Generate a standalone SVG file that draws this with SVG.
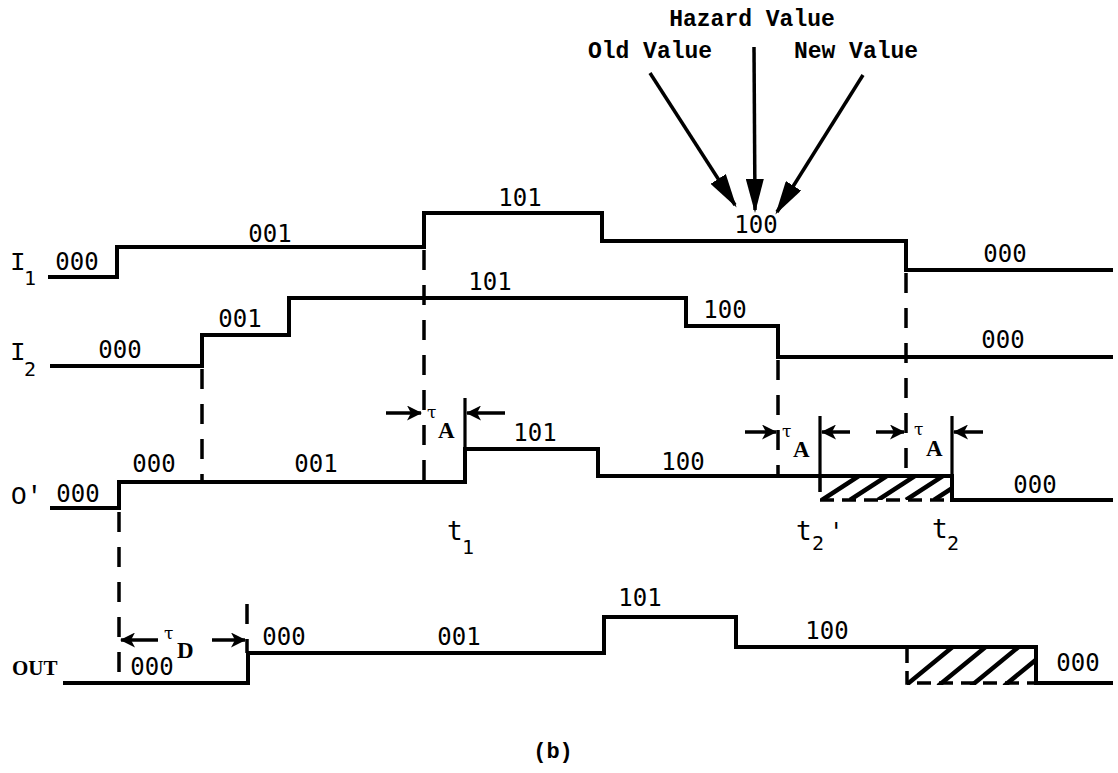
<svg xmlns="http://www.w3.org/2000/svg" width="1118" height="773" viewBox="0 0 1118 773">
<style>
.w{fill:none;stroke:#000;stroke-width:4;stroke-linejoin:miter}
.d{fill:none;stroke:#000;stroke-width:3.5;stroke-dasharray:20 15}
.t{fill:none;stroke:#000;stroke-width:3.2}
.h{fill:none;stroke:#000;stroke-width:4.5}
.lab{font-family:"DejaVu Sans Mono","Liberation Mono",monospace;font-size:24px;fill:#000}
.ttl{font-family:"Liberation Mono","Courier New",monospace;font-size:23px;font-weight:bold;fill:#000}
.sg{font-family:"Liberation Mono","Courier New",monospace;font-size:26px;fill:#000}
.sub{font-family:"DejaVu Sans Mono","Liberation Mono",monospace;font-size:20px;fill:#000}
.tau{font-family:"DejaVu Serif","Liberation Serif",serif;font-size:17px;fill:#000}
.A{font-family:"Liberation Serif","Times New Roman",serif;font-size:23px;font-weight:bold;fill:#000}
.arr{fill:none;stroke:#000;stroke-width:3.5}
</style>
<defs>
<marker id="big" markerUnits="userSpaceOnUse" viewBox="0 0 34 18" refX="31" refY="9" markerWidth="34" markerHeight="18" orient="auto"><path d="M0,0 L34,9 L0,18 z" fill="#000"/></marker>
<marker id="sm" markerUnits="userSpaceOnUse" viewBox="0 0 15 15" refX="14" refY="7.5" markerWidth="15" markerHeight="15" orient="auto"><path d="M0,0 L15,7.5 L0,15 L4,7.5 z" fill="#000"/></marker>
<clipPath id="c1"><rect x="820" y="476" width="132" height="24"/></clipPath>
<clipPath id="c2"><rect x="907" y="647" width="129" height="38"/></clipPath>
</defs>

<g id="title-labels">
<text class="ttl" x="752" y="26" text-anchor="middle">Hazard Value</text>
<text class="ttl" x="650" y="58" text-anchor="middle">Old Value</text>
<text class="ttl" x="856" y="58" text-anchor="middle">New Value</text>
</g>

<g id="sig-I1">
<text class="sg" x="10" y="270">I</text><text class="sub" x="24" y="285">1</text>
<path class="w" d="M48,277 H117 V247 H424 V213 H602 V241 H906 V270 H1113"/>
<text class="lab" x="77" y="270" text-anchor="middle">000</text>
<text class="lab" x="270" y="242" text-anchor="middle">001</text>
<text class="lab" x="520" y="206" text-anchor="middle">101</text>
<text class="lab" x="756" y="233" text-anchor="middle">100</text>
<text class="lab" x="1005" y="262" text-anchor="middle">000</text>
</g>

<g id="sig-I2">
<text class="sg" x="10" y="360">I</text><text class="sub" x="24" y="376">2</text>
<path class="w" d="M50,366 H202 V335 H289 V298 H686 V326 H778 V357 H1113"/>
<text class="lab" x="120" y="358" text-anchor="middle">000</text>
<text class="lab" x="240" y="327" text-anchor="middle">001</text>
<text class="lab" x="490" y="290" text-anchor="middle">101</text>
<text class="lab" x="725" y="318" text-anchor="middle">100</text>
<text class="lab" x="1003" y="348" text-anchor="middle">000</text>
</g>

<g id="sig-O">
<text class="sg" x="11" y="504">O'</text>
<path class="w" d="M50,508 H119 V482 H465 V449 H598 V476 H952 V500 H1113"/>
<text class="lab" x="78" y="502" text-anchor="middle">000</text>
<text class="lab" x="154" y="472" text-anchor="middle">000</text>
<text class="lab" x="316" y="472" text-anchor="middle">001</text>
<text class="lab" x="535" y="441" text-anchor="middle">101</text>
<text class="lab" x="683" y="470" text-anchor="middle">100</text>
<text class="lab" x="1035" y="493" text-anchor="middle">000</text>
<g id="hatch-O">
<path class="d" d="M820,478 V500 H952" style="stroke-dasharray:14 8"/>
<g clip-path="url(#c1)">
<path class="h" d="M822,500 L862,474 M850,500 L890,474 M878,500 L918,474 M906,500 L946,474 M934,500 L974,474"/>
</g>
</g>
<text class="lab" x="447" y="540" style="font-size:26px">t</text><text class="sub" x="462" y="554">1</text>
<text class="lab" x="796" y="540" style="font-size:26px">t</text><text class="sub" x="812" y="550">2</text><text class="lab" x="829" y="540">'</text>
<text class="lab" x="932" y="538" style="font-size:26px">t</text><text class="sub" x="947" y="550">2</text>
</g>

<g id="sig-OUT">
<text x="12" y="675" style="font-family:'Liberation Serif','Times New Roman',serif;font-size:21px;font-weight:bold">OUT</text>
<path class="w" d="M63,683 H248 V653 H604 V617 H736 V647 H1036 V683 H1113"/>
<text class="lab" x="152" y="675" text-anchor="middle">000</text>
<text class="lab" x="284" y="645" text-anchor="middle">000</text>
<text class="lab" x="459" y="645" text-anchor="middle">001</text>
<text class="lab" x="640" y="606" text-anchor="middle">101</text>
<text class="lab" x="827" y="639" text-anchor="middle">100</text>
<text class="lab" x="1078" y="671" text-anchor="middle">000</text>
<g id="hatch-OUT">
<path class="d" d="M907,649 V683 H1036" style="stroke-dasharray:14 8"/>
<g clip-path="url(#c2)">
<path class="h" d="M905,686 L955,645 M938,686 L988,645 M971,686 L1021,645 M1004,686 L1054,645"/>
</g>
</g>
</g>

<g id="tau-labels">
<text class="tau" x="427" y="418">τ</text><text class="A" x="438" y="438">A</text>
<text class="tau" x="782" y="437">τ</text><text class="A" x="793" y="457">A</text>
<text class="tau" x="914" y="435">τ</text><text class="A" x="926" y="456">A</text>
<text class="tau" x="164" y="639">τ</text><text class="A" x="177" y="658">D</text>
</g>

<g id="connectors">
<path class="d" d="M424,250 V482"/>
<path class="d" d="M202,369 V482"/>
<path class="d" d="M778,360 V476"/>
<path class="d" d="M906,273 V476"/>
<path class="d" d="M119,512 V683"/>
<path class="d" d="M247,604 V653"/>
<path class="t" d="M465,398 V449"/>
<path class="t" d="M820,416 V476"/>
<path class="t" d="M952,416 V476"/>
<line class="arr" x1="386" y1="413" x2="421" y2="413" marker-end="url(#sm)"/>
<line class="arr" x1="505" y1="413" x2="467" y2="413" marker-end="url(#sm)"/>
<line class="arr" x1="745" y1="432" x2="776" y2="432" marker-end="url(#sm)"/>
<line class="arr" x1="850" y1="432" x2="822" y2="432" marker-end="url(#sm)"/>
<line class="arr" x1="876" y1="432" x2="904" y2="432" marker-end="url(#sm)"/>
<line class="arr" x1="983" y1="432" x2="954" y2="432" marker-end="url(#sm)"/>
<line class="arr" x1="158" y1="640" x2="121" y2="640" marker-end="url(#sm)"/>
<line class="arr" x1="212" y1="640" x2="245" y2="640" marker-end="url(#sm)"/>
<line class="arr" x1="650" y1="73" x2="735" y2="205" marker-end="url(#big)"/>
<line class="arr" x1="754" y1="47" x2="755" y2="210" marker-end="url(#big)"/>
<line class="arr" x1="863" y1="75" x2="777" y2="212" marker-end="url(#big)"/>
</g>

<text class="ttl" x="553" y="758" text-anchor="middle" style="font-size:22px">(b)</text>
</svg>
